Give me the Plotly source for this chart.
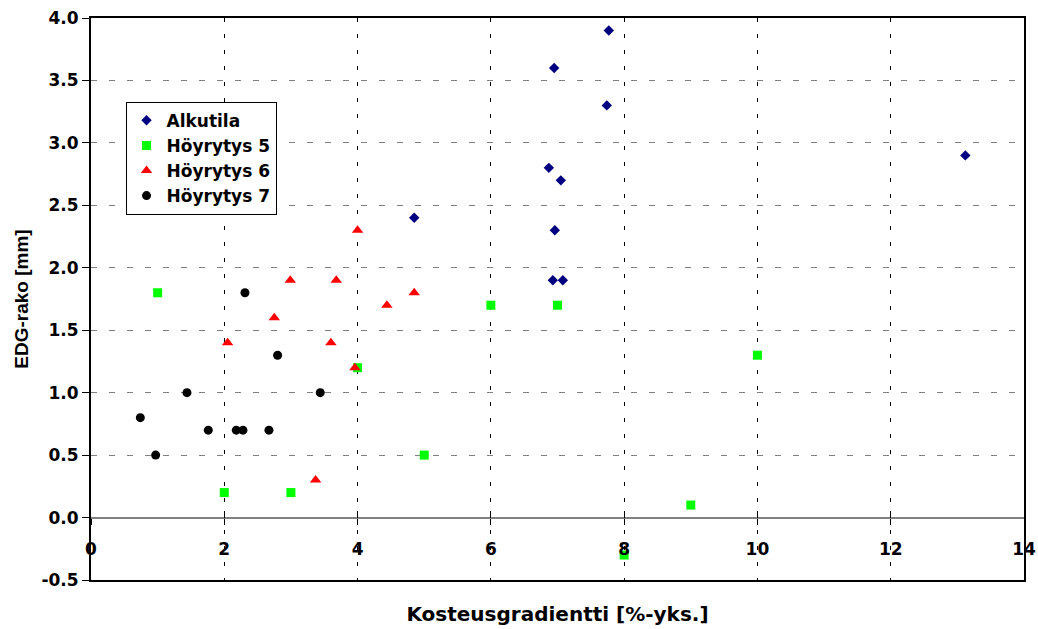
import plotly.graph_objects as go

# Data
alkutila_x = [7.77, 6.95, 7.74, 6.87, 7.05, 4.85, 6.96, 6.93, 7.08, 13.12]
alkutila_y = [3.9, 3.6, 3.3, 2.8, 2.7, 2.4, 2.3, 1.9, 1.9, 2.9]

hoyr5_x = [1, 2, 3, 4, 5, 6, 7, 8, 9, 10]
hoyr5_y = [1.8, 0.2, 0.2, 1.2, 0.5, 1.7, 1.7, -0.3, 0.1, 1.3]

hoyr6_x = [2.99, 3.68, 2.75, 2.05, 3.60, 3.96, 3.37, 4.0, 4.44, 4.85]
hoyr6_y = [1.9, 1.9, 1.6, 1.4, 1.4, 1.2, 0.3, 2.3, 1.7, 1.8]

hoyr7_x = [2.31, 2.80, 1.44, 3.44, 0.74, 1.76, 2.18, 2.28, 2.67, 0.97]
hoyr7_y = [1.8, 1.3, 1.0, 1.0, 0.8, 0.7, 0.7, 0.7, 0.7, 0.5]

x_ticks = [0, 2, 4, 6, 8, 10, 12, 14]
y_ticks = [-0.5, 0.0, 0.5, 1.0, 1.5, 2.0, 2.5, 3.0, 3.5, 4.0]

FONT = "DejaVu Sans, sans-serif"
FONT_Y = "Liberation Sans, Arial, sans-serif"

x_ticktext = [f"<b>{v}</b>" for v in x_ticks]
y_ticktext = [f"<b>{v:.1f}</b>" for v in y_ticks]

fig = go.Figure()
fig.add_trace(go.Scatter(x=alkutila_x, y=alkutila_y, mode="markers", name="<b>Alkutila</b>",
                         marker=dict(symbol="diamond", size=8, color="#000080")))
fig.add_trace(go.Scatter(x=hoyr5_x, y=hoyr5_y, mode="markers", name="<b>Höyrytys 5</b>",
                         marker=dict(symbol="square", size=9, color="#00FF00")))
fig.add_trace(go.Scatter(x=hoyr6_x, y=hoyr6_y, mode="markers", name="<b>Höyrytys 6</b>",
                         marker=dict(symbol="triangle-up", size=10, color="#FF0000")))
fig.add_trace(go.Scatter(x=hoyr7_x, y=hoyr7_y, mode="markers", name="<b>Höyrytys 7</b>",
                         marker=dict(symbol="circle", size=9, color="#000000")))

# invisible helper traces to activate extra x axes
fig.add_trace(go.Scatter(x=[None], y=[None], xaxis="x2", showlegend=False, hoverinfo="skip"))
fig.add_trace(go.Scatter(x=[None], y=[None], xaxis="x3", showlegend=False, hoverinfo="skip"))

tick_font = dict(family=FONT, size=17, color="black")
y0_pos = (0 - y_ticks[0]) / (y_ticks[-1] - y_ticks[0])

fig.update_layout(
    width=1038, height=629,
    margin=dict(l=91, r=14, t=18, b=49, autoexpand=False),
    paper_bgcolor="white", plot_bgcolor="white",
    font=dict(family=FONT, color="black"),
    showlegend=True,
    legend=dict(x=0.037, y=0.851, xanchor="left", yanchor="top",
                bgcolor="white", bordercolor="black", borderwidth=1,
                font=dict(family=FONT, size=17, color="black"),
                itemwidth=30),
    xaxis=dict(range=[x_ticks[0], x_ticks[-1]], tickvals=x_ticks, showticklabels=False,
               ticks="", showgrid=True, gridcolor="black", gridwidth=1, griddash="4px,12px",
               showline=True, linecolor="black", linewidth=2, mirror=True, zeroline=False,
               automargin=False,
               title=dict(text="<b>Kosteusgradientti [%-yks.]</b>", font=dict(family=FONT, size=20),
                          standoff=26)),
    xaxis2=dict(range=[x_ticks[0], x_ticks[-1]], tickvals=x_ticks, ticktext=x_ticktext,
                overlaying="x", anchor="free", automargin=False,
                position=y0_pos, side="bottom", ticks="outside", ticklen=6, tickwidth=1,
                tickcolor="black", showgrid=False, showline=False, zeroline=False,
                tickfont=tick_font, ticklabelstandoff=10),
    xaxis3=dict(range=[x_ticks[0], x_ticks[-1]], tickvals=x_ticks, overlaying="x", anchor="free",
                position=y0_pos, side="bottom", ticks="inside", ticklen=7, tickwidth=1,
                tickcolor="black", showgrid=False, showline=False, zeroline=False,
                showticklabels=False, automargin=False),
    yaxis=dict(range=[y_ticks[0], y_ticks[-1]], tickvals=y_ticks, ticktext=y_ticktext,
               ticks="outside", ticklen=7, tickwidth=1, tickcolor="black",
               showgrid=True, gridcolor="#808080", gridwidth=1, griddash="6px,12px",
               showline=True, linecolor="black", linewidth=2, mirror=True,
               zeroline=True, zerolinecolor="#808080", zerolinewidth=1.5,
               tickfont=tick_font, automargin=False,
               title=dict(text="<b>EDG-rako [mm]</b>", font=dict(family=FONT_Y, size=19),
                          standoff=8)),
)

fig.write_html("out.html")
